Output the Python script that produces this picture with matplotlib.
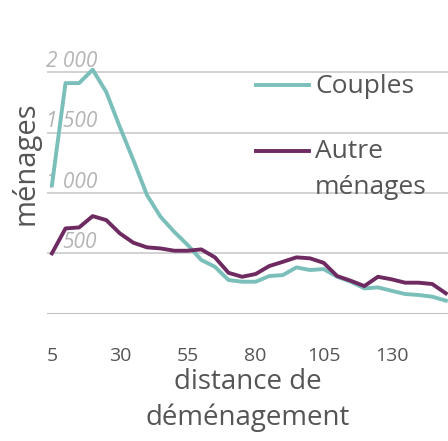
import matplotlib
matplotlib.use("Agg")
import matplotlib.pyplot as plt
import matplotlib.transforms as mtransforms
from matplotlib.lines import Line2D

# distance de déménagement (km), pas de 5
distance = [5, 10, 15, 20, 25, 30, 35, 40, 45, 50, 55, 60, 65, 70, 75,
            80, 85, 90, 95, 100, 105, 110, 115, 120, 125, 130, 135, 140, 145, 150]
couples = [1065, 1912, 1912, 2023, 1838, 1548, 1272, 983, 803, 679, 569, 445, 389, 279, 265,
           265, 312, 320, 384, 362, 370, 306, 265, 210, 218, 190, 163, 155, 141, 108]
autres = [500, 707, 715, 809, 776, 666, 588, 550, 541, 522, 522, 533, 467, 339, 306,
          329, 395, 430, 467, 459, 422, 312, 273, 229, 306, 285, 257, 257, 246, 169]
series_labels = ["Couples", "Autre\nménages"]
x_ticks = [5, 30, 55, 80, 105, 130]
y_ticks = [0, 500, 1000, 1500, 2000]
y_ticklabels = ["", "500", "1 000", "1 500", "2 000"]

teal = '#7bbfba'
purple = '#6e2b62'
grey = '#555555'

plt.rcParams['font.family'] = ['Open Sans', 'DejaVu Sans']

fig = plt.figure(figsize=(4.48, 4.41), dpi=100)
ax = fig.add_axes([0.105, 0.2887, 0.895, 0.5743])

ax.plot(distance, couples, color=teal, lw=2.8, zorder=3)
ax.plot(distance, autres, color=purple, lw=2.8, zorder=3)

ax.set_xlim(3.2, 150.8)
ax.set_ylim(0, 2100)
for s in ax.spines.values():
    s.set_visible(False)

# horizontal gridlines through the y ticks, baseline a bit darker
ax.set_yticks(y_ticks)
ax.tick_params(axis='y', length=0, labelleft=False)
ax.grid(axis='y', color='#d2d2d2', linewidth=1.4)
ax.set_axisbelow(True)
ax.get_ygridlines()[0].set_color('#c0c0c0')
ax.get_ygridlines()[0].set_linewidth(2.2)

# y labels drawn inside the plot, above each gridline
trans = mtransforms.blended_transform_factory(ax.transAxes, ax.transData)
off = mtransforms.offset_copy(trans, fig=fig, x=0, y=4, units='points')
for v, lab in zip(y_ticks, y_ticklabels):
    ax.text(0.125, v, lab, transform=off, ha='right', va='baseline',
            fontsize=15, style='italic', color='#b5b5b5', zorder=2)

ax.set_xticks(x_ticks)
ax.set_xticklabels([str(t) for t in x_ticks])
ax.tick_params(axis='x', length=0, pad=24, labelsize=14, colors=grey)

ax.set_xlabel("distance de\ndéménagement", fontsize=20, color=grey, labelpad=2,
              linespacing=1.35)
fig.text(0.056, 0.63, "ménages", rotation=90, fontsize=21, color=grey,
         ha='center', va='center')

# legend, drawn by hand so the handle sits on the first line of the label
H = 441.0
W = 448.0
legend_rows = [(series_labels[0], teal, 85, [93]),
               (series_labels[1], purple, 150.5, [158, 194])]
for lab, col, y_line, bases in legend_rows:
    fig.add_artist(Line2D([256 / W, 309 / W], [1 - y_line / H, 1 - y_line / H],
                          color=col, lw=2.8, transform=fig.transFigure))
    for part, y_base in zip(lab.split("\n"), bases):
        fig.text(315 / W, 1 - y_base / H, part, fontsize=19, color=grey,
                 ha='left', va='baseline')

fig.savefig("out.png", dpi=100)
